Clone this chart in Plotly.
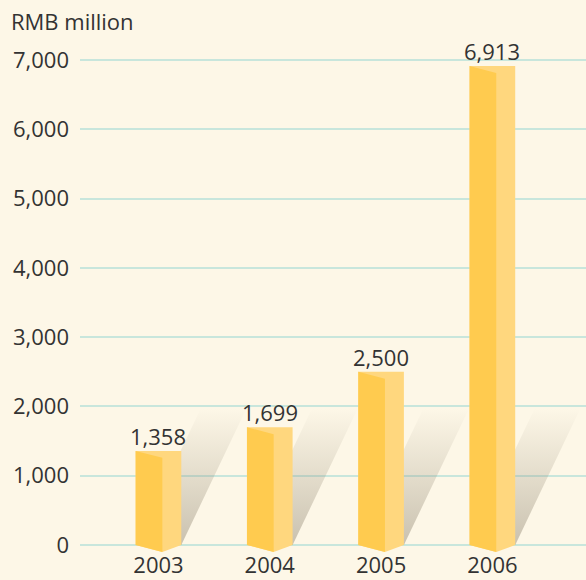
import plotly.graph_objects as go

# ---- data ----
years = ["2003", "2004", "2005", "2006"]
values = [1358, 1699, 2500, 6913]
value_labels = ["1,358", "1,699", "2,500", "6,913"]
y_ticks = [0, 1000, 2000, 3000, 4000, 5000, 6000, 7000]
y_tick_labels = ["0", "1,000", "2,000", "3,000", "4,000", "5,000", "6,000", "7,000"]
unit_label = "RMB million"

# ---- style ----
BG = "#fdf7e7"
FRONT = "#ffcb4f"
SIDE = "#ffd77e"
GRID = "#c8e6dc"
TEXT = "#333333"
FONT = "Open Sans"

HALF_W = 0.205        # half bar width in x units
FRONT_FRAC = 0.585    # fraction of width that is the front face
DIP = 100             # depth of the slanted top/bottom (y units)
SHADOW_H = 1970       # height of the cast shadow
SHADOW_DX = 0.585     # horizontal offset of shadow top

fig = go.Figure()
xs = list(range(len(years)))

# shadows
for x in xs:
    L, R = x - HALF_W, x + HALF_W
    fig.add_trace(go.Scatter(
        x=[L, R, R + SHADOW_DX, L + SHADOW_DX, L],
        y=[0, 0, SHADOW_H, SHADOW_H, 0],
        mode="lines", line=dict(width=0), fill="toself",
        fillgradient=dict(type="vertical",
                          colorscale=[[0, "rgba(150,140,120,0.50)"],
                                      [1, "rgba(150,140,120,0.0)"]]),
        hoverinfo="skip", showlegend=False))

# bars
for x, v in zip(xs, values):
    L, R = x - HALF_W, x + HALF_W
    J = L + 2 * HALF_W * FRONT_FRAC
    fig.add_trace(go.Scatter(
        x=[L, R, R, J, L, L], y=[v, v, 0, -DIP, 0, v],
        mode="lines", line=dict(width=0), fill="toself", fillcolor=SIDE,
        hoverinfo="skip", showlegend=False))
    fig.add_trace(go.Scatter(
        x=[L, J, J, L, L], y=[v, v - DIP, -DIP, 0, v],
        mode="lines", line=dict(width=0), fill="toself", fillcolor=FRONT,
        hoverinfo="skip", showlegend=False))

# value labels
for x, v, t in zip(xs, values, value_labels):
    fig.add_annotation(x=x, y=v, text=t, showarrow=False, yanchor="middle",
                       yshift=15, font=dict(family=FONT, size=22, color=TEXT))

fig.add_annotation(xref="paper", yref="paper", x=-71/506, y=1.0, yshift=6,
                   xanchor="left", yanchor="top", text=unit_label, showarrow=False,
                   font=dict(family=FONT, size=22, color=TEXT))

px_per_unit = 485 / 7000
top_px, bot_px = 10, 553
y_top = (545 - top_px) / px_per_unit
y_bot = -(bot_px - 545) / px_per_unit

fig.update_layout(
    template="none",
    width=586, height=580,
    margin=dict(l=80, r=0, t=top_px, b=580 - bot_px, autoexpand=False),
    paper_bgcolor=BG, plot_bgcolor=BG,
    font=dict(family=FONT, size=22, color=TEXT),
    xaxis=dict(range=[-0.705, 3.841], tickvals=xs, ticktext=years,
               showgrid=False, zeroline=False, showline=False, ticks="",
               ticklabelstandoff=-3, automargin=False, fixedrange=True),
    yaxis=dict(range=[y_bot, y_top], tickvals=y_ticks, ticktext=y_tick_labels,
               showgrid=True, gridcolor=GRID, gridwidth=1.5, zeroline=False,
               showline=False, ticks="", ticklabelstandoff=10,
               automargin=False, fixedrange=True),
)

fig.write_html("out.html", config={"displayModeBar": False},
               post_script="document.body.style.margin='0';document.body.style.background='%s';" % BG)
